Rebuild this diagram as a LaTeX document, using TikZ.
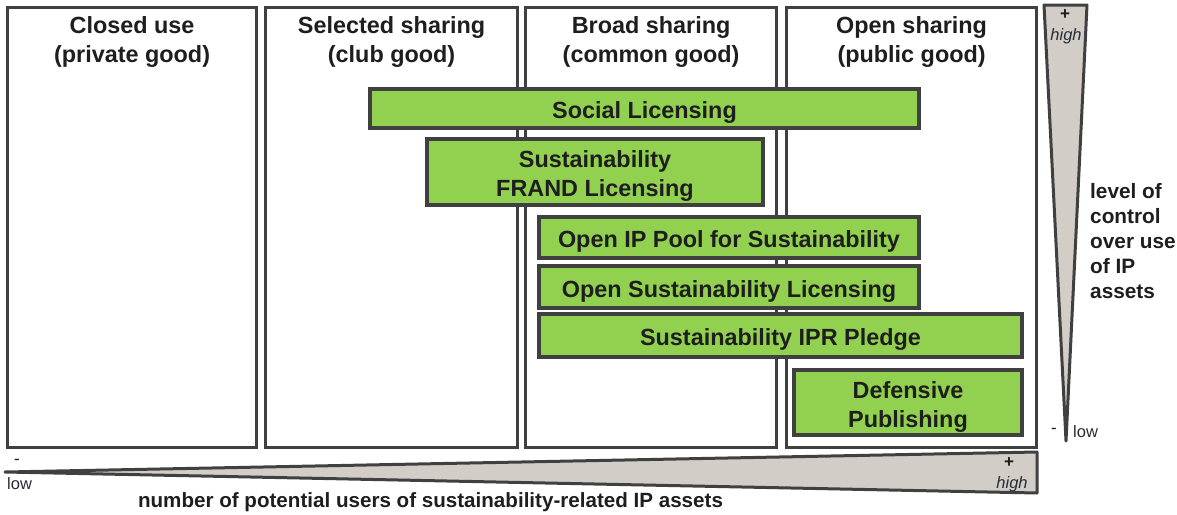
\documentclass[tikz,border=0pt]{standalone}
\usepackage{fontspec}
\setmainfont{Liberation Sans}
\definecolor{linegray}{RGB}{64,64,64}
\definecolor{leaf}{RGB}{146,208,80}
\definecolor{wedge}{RGB}{210,206,199}
\definecolor{ink}{RGB}{30,30,30}
\definecolor{scaleink}{RGB}{38,44,56}
\tikzset{
  colbox/.style={draw=linegray, line width=3.2pt, fill=white, inner sep=0pt, anchor=north west},
  coltitle/.style={anchor=north, align=center, text=ink, inner sep=0pt,
    font=\fontsize{23.4}{29}\selectfont\bfseries},
  greenbox/.style={draw=linegray, line width=3.6pt, fill=leaf, inner sep=0pt},
  boxtext/.style={align=center, text=ink, inner sep=0pt,
    font=\fontsize{23.4}{29}\selectfont\bfseries},
  wedgeshape/.style={draw=linegray, line width=3pt, fill=wedge, line join=round},
  scalemark/.style={text=ink, inner sep=0pt, font=\fontsize{17}{20}\selectfont},
  scaleword/.style={text=scaleink, inner sep=0pt, font=\fontsize{16.5}{20}\selectfont},
  axislabel/.style={text=ink, inner sep=0pt, font=\fontsize{20.8}{25}\selectfont\bfseries}
}
\begin{document}
\begin{tikzpicture}[x=1pt,y=-1pt]
  \useasboundingbox (0,0) rectangle (1177,514);

  % four sharing columns
  \node[colbox, minimum width=249, minimum height=440] (closed) at (6,6) {};
  \node[colbox, minimum width=252, minimum height=440] (club)   at (264,6) {};
  \node[colbox, minimum width=251, minimum height=440] (broad)  at (524,6) {};
  \node[colbox, minimum width=250, minimum height=440] (open)   at (785,6) {};

  \node[coltitle] (closedT) at ([yshift=-10]closed.north) {Closed use\\(private good)};
  \node[coltitle] (clubT)   at ([yshift=-10]club.north)   {Selected sharing\\(club good)};
  \node[coltitle] (broadT)  at ([yshift=-10]broad.north)  {Broad sharing\\(common good)};
  \node[coltitle] (openT)   at ([yshift=-10]open.north)   {Open sharing\\(public good)};

  % licensing models
  \node[greenbox, minimum width=549, minimum height=39] (social) at (644.5,108.5) {};
  \node[greenbox, minimum width=336, minimum height=66] (frand)  at (595,172) {};
  \node[greenbox, minimum width=380, minimum height=41] (pool)   at (729,237.5) {};
  \node[greenbox, minimum width=380, minimum height=42] (osl)    at (729,287) {};
  \node[greenbox, minimum width=483, minimum height=43] (pledge) at (780.5,335.5) {};
  \node[greenbox, minimum width=228, minimum height=65] (defpub) at (908,402.5) {};

  \node[boxtext] (socialT) at ([yshift=-4]social.center) {Social Licensing};
  \node[boxtext] (frandT)  at ([yshift=-4]frand.center)  {Sustainability\\FRAND Licensing};
  \node[boxtext] (poolT)   at ([yshift=-4]pool.center)   {Open IP Pool for Sustainability};
  \node[boxtext] (oslT)    at ([yshift=-4]osl.center)    {Open Sustainability Licensing};
  \node[boxtext] (pledgeT) at ([yshift=-4]pledge.center) {Sustainability IPR Pledge};
  \node[boxtext] (defpubT) at ([yshift=-4]defpub.center) {Defensive\\Publishing};

  % vertical scale: level of control
  \draw[wedgeshape] (1044,5) -- (1087,5) -- (1066,441) -- cycle;
  \node[scalemark] (vplus)  at (1065,15) {\bfseries +};
  \node[scaleword] (vhigh)  at (1066,36) {\itshape high};
  \node[scalemark] (vminus) at (1054,431) {-};
  \node[scaleword, anchor=west] (vlow) at (1073,432) {low};
  \node[axislabel, anchor=north west, align=left] (vlabel) at (1090,183)
    {level of\\control\\over use\\of IP\\assets};

  % horizontal scale: number of potential users
  \draw[wedgeshape] (5,472) -- (1037,452) -- (1037,493) -- cycle;
  \node[scalemark] (hminus) at (17,462) {-};
  \node[scaleword, anchor=west] (hlow) at (7,484) {low};
  \node[scalemark] (hplus)  at (1009,463) {\bfseries +};
  \node[scaleword] (hhigh)  at (1012,484) {\itshape high};
  \node[axislabel, font=\fontsize{20.6}{24}\selectfont\bfseries] (hlabel) at (430.5,502)
    {number of potential users of sustainability-related IP assets};
\end{tikzpicture}
\end{document}
